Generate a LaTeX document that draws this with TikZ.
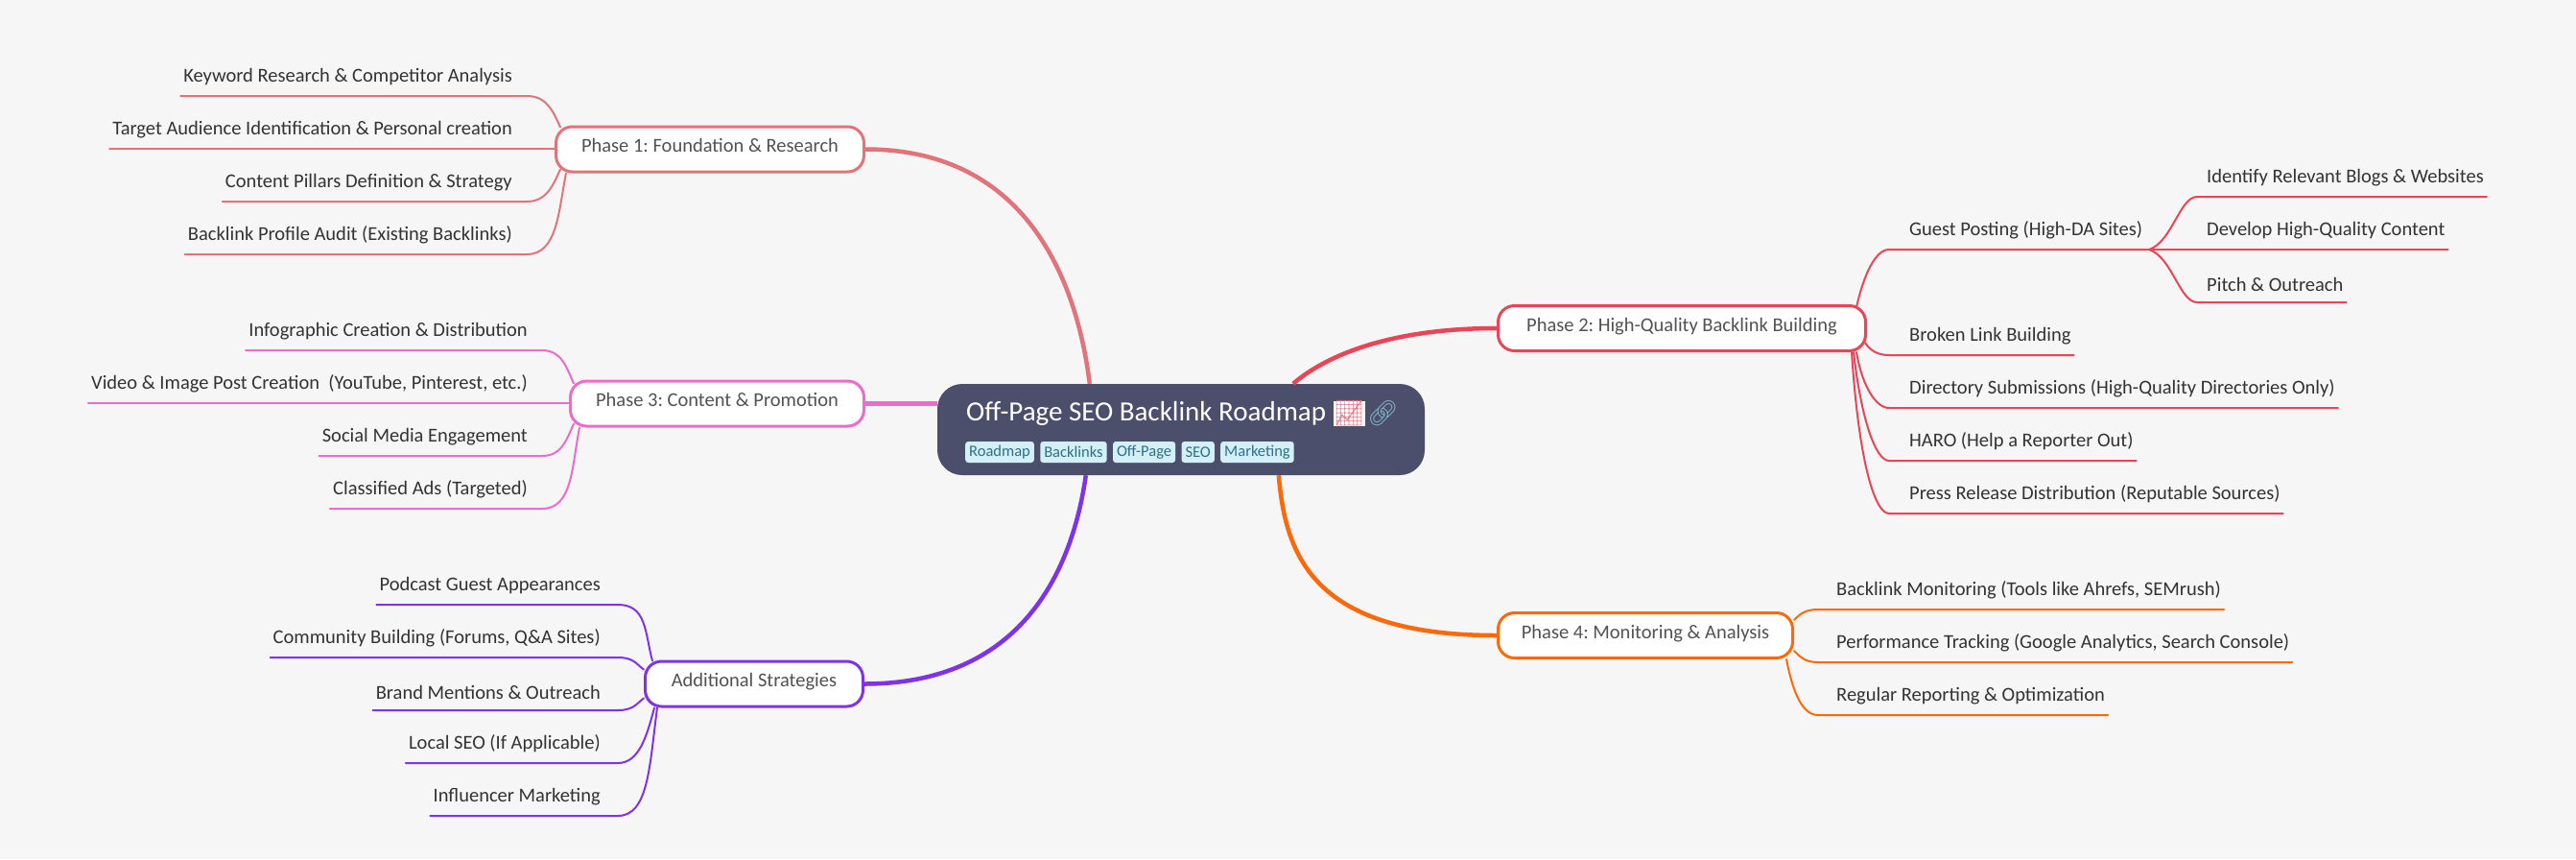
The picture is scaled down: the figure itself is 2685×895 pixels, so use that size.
\documentclass[tikz,border=0pt]{standalone}
\usepackage{fontspec}
\setmainfont{Carlito}
\newfontfamily\emojifont{Noto Emoji}
\usetikzlibrary{positioning, calc}
\frenchspacing
\definecolor{pagebg}{HTML}{F6F6F6}
\definecolor{rootbg}{HTML}{4C4F6B}
\definecolor{tagbg}{HTML}{D3EFF7}
\definecolor{tagfg}{HTML}{2F7089}
\definecolor{inktext}{HTML}{333333}
\definecolor{linkblue}{HTML}{7FB2C6}
\definecolor{phaseA}{HTML}{E0747A}
\definecolor{phaseB}{HTML}{E94556}
\definecolor{phaseC}{HTML}{EA6CCB}
\definecolor{phaseD}{HTML}{FA6A0C}
\definecolor{phaseE}{HTML}{7E33E6}
\tikzset{
 leafl/.style={anchor=south east, inner xsep=3pt, inner ysep=11pt, text=inktext, font=\fontsize{20.5}{24}\selectfont},
 leafr/.style={anchor=south west, inner xsep=3pt, inner ysep=11pt, text=inktext, font=\fontsize{20.5}{24}\selectfont},
 phase/.style={draw, line width=3pt, rounded corners=17pt, fill=white, text=inktext!85, minimum height=47pt, text height=13pt, text depth=6.5pt, font=\fontsize{20.5}{24}\selectfont},
 tagbox/.style={fill=tagbg, text=tagfg, rounded corners=3pt, inner xsep=4pt, inner ysep=0pt, minimum height=22pt, font=\fontsize{16.5}{18}\selectfont},
 twig/.style={line width=2pt, line cap=round},
 limb/.style={line width=4.5pt},
}
\begin{document}
\begin{tikzpicture}[x=1pt,y=-1pt]
 \useasboundingbox[fill=pagebg] (0,0) rectangle (2685,895);

 \node[rounded corners=26pt, fill=rootbg, minimum width=508pt, minimum height=95pt] (root) at (1231,447.5) {};
 \node[anchor=west, text=white, inner sep=0pt, font=\fontsize{29}{32}\selectfont] (title) at (1007,431) {Off-Page SEO Backlink Roadmap};
 \node[right=7pt of title, fill=white, text=phaseB!75!white, inner sep=0pt, font=\emojifont\fontsize{26}{28}\selectfont] (chart) {📈};
 \node[right=2pt of chart, text=linkblue, inner sep=0pt, font=\emojifont\fontsize{26}{28}\selectfont] (chain) {🔗};
 \node[tagbox, anchor=west] (t1) at (1006,471) {Roadmap};
 \node[tagbox, right=6pt of t1] (t2) {Backlinks};
 \node[tagbox, right=6pt of t2] (t3) {Off-Page};
 \node[tagbox, right=6pt of t3] (t4) {SEO};
 \node[tagbox, right=6pt of t4] (t5) {Marketing};

 \node[phase, draw=phaseA, minimum width=321pt] (p1) at (740,155.5) {Phase 1: Foundation \& Research};
 \node[phase, draw=phaseB, minimum width=383pt] (p2) at (1753,342) {Phase 2: High-Quality Backlink Building};
 \node[phase, draw=phaseC, minimum width=306pt] (p3) at (747.5,420.5) {Phase 3: Content \& Promotion};
 \node[phase, draw=phaseD, minimum width=307pt] (p4) at (1715,662) {Phase 4: Monitoring \& Analysis};
 \node[phase, draw=phaseE, minimum width=227pt] (p5) at (786,712.5) {Additional Strategies};

 \draw[limb, phaseA] (p1.east) .. controls +(160,0) and +(-15,-120) .. ($(root.north west)+(159,0)$);
 \draw[limb, phaseB] (p2.west) .. controls +(-110,0) and +(35,-30) .. ($(root.north west)+(371,0)$);
 \draw[limb, phaseC] (p3.east) -- (root.west |- p3.east);
 \draw[limb, phaseD] (p4.west) .. controls +(-190,0) and +(7,85) .. ($(root.south west)+(356,0)$);
 \draw[limb, phaseE] (p5.east) .. controls +(160,0) and +(-15,105) .. ($(root.south west)+(155,0)$);

 \node[leafl] (a1) at (537,100) {Keyword Research \& Competitor Analysis};
 \node[leafl] (a2) at (537,155) {Target Audience Identification \& Personal creation};
 \node[leafl] (a3) at (537,210) {Content Pillars Definition \& Strategy};
 \node[leafl] (a4) at (537,265) {Backlink Profile Audit (Existing Backlinks)};
 \draw[twig, phaseA] (a1.south west) -- (a1.south east) -- ++(12,0) .. controls +(20,0) and +(-8,-18) .. ($(p1.north west)+(6,2)$);
 \draw[twig, phaseA] (a2.south west) -- (p1.west |- a2.south);
 \draw[twig, phaseA] (a3.south west) -- (a3.south east) -- ++(12,0) .. controls +(20,0) and +(-8,18) .. ($(p1.south west)+(6,-4)$);
 \draw[twig, phaseA] (a4.south west) -- (a4.south east) -- ++(12,0) .. controls +(32,0) and +(-8,40) .. ($(p1.south west)+(12,0)$);

 \node[leafl] (c1) at (553,365) {Infographic Creation \& Distribution};
 \node[leafl] (c2) at (553,420) {Video \& Image Post Creation\ \ (YouTube, Pinterest, etc.)};
 \node[leafl] (c3) at (553,475) {Social Media Engagement};
 \node[leafl] (c4) at (553,530) {Classified Ads (Targeted)};
 \draw[twig, phaseC] (c1.south west) -- (c1.south east) -- ++(12,0) .. controls +(20,0) and +(-8,-18) .. ($(p3.north west)+(5,4)$);
 \draw[twig, phaseC] (c2.south west) -- (p3.west |- c2.south);
 \draw[twig, phaseC] (c3.south west) -- (c3.south east) -- ++(12,0) .. controls +(20,0) and +(-8,18) .. ($(p3.south west)+(5,-4)$);
 \draw[twig, phaseC] (c4.south west) -- (c4.south east) -- ++(12,0) .. controls +(32,0) and +(-8,40) .. ($(p3.south west)+(11,0)$);

 \node[leafl] (d1) at (629,630) {Podcast Guest Appearances};
 \node[leafl] (d2) at (629,685) {Community Building (Forums, Q\&A Sites)};
 \node[leafl] (d3) at (629,740) {Brand Mentions \& Outreach};
 \node[leafl] (d4) at (629,795) {Local SEO (If Applicable)};
 \node[leafl] (d5) at (629,850) {Influencer Marketing};
 \draw[twig, phaseE] (d1.south west) -- (d1.south east) -- ++(15,0) .. controls +(30,0) and +(-8,-30) .. ($(p5.north west)+(9,1)$);
 \draw[twig, phaseE] (d2.south west) -- (d2.south east) -- ++(15,0) .. controls +(16,0) and +(-8,-6) .. ($(p5.north west)+(0,10)$);
 \draw[twig, phaseE] (d3.south west) -- (d3.south east) -- ++(15,0) .. controls +(16,0) and +(-8,6) .. ($(p5.south west)+(0,-10)$);
 \draw[twig, phaseE] (d4.south west) -- (d4.south east) -- ++(15,0) .. controls +(22,0) and +(-8,30) .. ($(p5.south west)+(11,0)$);
 \draw[twig, phaseE] (d5.south west) -- (d5.south east) -- ++(15,0) .. controls +(32,0) and +(-8,60) .. ($(p5.south west)+(14,0)$);

 \node[leafr] (b1) at (1987,260) {Guest Posting (High-DA Sites)};
 \node[leafr] (b2) at (1987,370) {Broken Link Building};
 \node[leafr] (b3) at (1987,425) {Directory Submissions (High-Quality Directories Only)};
 \node[leafr] (b4) at (1987,480) {HARO (Help a Reporter Out)};
 \node[leafr] (b5) at (1987,535) {Press Release Distribution (Reputable Sources)};
 \coordinate (gfork) at (2240,260);
 \draw[twig, phaseB] ($(p2.north east)+(-11,3)$) .. controls +(8,-35) and +(-14,0) .. ($(b1.south west)+(-18,0)$) -- (gfork);
 \draw[twig, phaseB] ($(p2.south east)+(-2,-10)$) .. controls +(5,8) and +(-12,0) .. ($(b2.south west)+(-18,0)$) -- (b2.south east);
 \draw[twig, phaseB] ($(p2.south east)+(-11,0)$) .. controls +(6,35) and +(-14,0) .. ($(b3.south west)+(-18,0)$) -- (b3.south east);
 \draw[twig, phaseB] ($(p2.south east)+(-14,0)$) .. controls +(8,70) and +(-14,0) .. ($(b4.south west)+(-18,0)$) -- (b4.south east);
 \draw[twig, phaseB] ($(p2.south east)+(-16,0)$) .. controls +(8,120) and +(-14,0) .. ($(b5.south west)+(-18,0)$) -- (b5.south east);

 \node[leafr] (g1) at (2297,205) {Identify Relevant Blogs \& Websites};
 \node[leafr] (g2) at (2297,260) {Develop High-Quality Content};
 \node[leafr] (g3) at (2297,315) {Pitch \& Outreach};
 \draw[twig, phaseB] (gfork) .. controls +(24,-8) and +(-18,0) .. ($(g1.south west)+(-7,0)$) -- (g1.south east);
 \draw[twig, phaseB] (gfork) -- (g2.south east);
 \draw[twig, phaseB] (gfork) .. controls +(24,8) and +(-18,0) .. ($(g3.south west)+(-7,0)$) -- (g3.south east);

 \node[leafr] (e1) at (1911,635) {Backlink Monitoring (Tools like Ahrefs, SEMrush)};
 \node[leafr] (e2) at (1911,690) {Performance Tracking (Google Analytics, Search Console)};
 \node[leafr] (e3) at (1911,745) {Regular Reporting \& Optimization};
 \draw[twig, phaseD] ($(p4.north east)+(0,9)$) .. controls +(6,-6) and +(-14,0) .. ($(e1.south west)+(-16,0)$) -- (e1.south east);
 \draw[twig, phaseD] ($(p4.south east)+(0,-9)$) .. controls +(6,6) and +(-14,0) .. ($(e2.south west)+(-16,0)$) -- (e2.south east);
 \draw[twig, phaseD] ($(p4.south east)+(-8,0)$) .. controls +(6,30) and +(-18,0) .. ($(e3.south west)+(-16,0)$) -- (e3.south east);
\end{tikzpicture}
\end{document}
